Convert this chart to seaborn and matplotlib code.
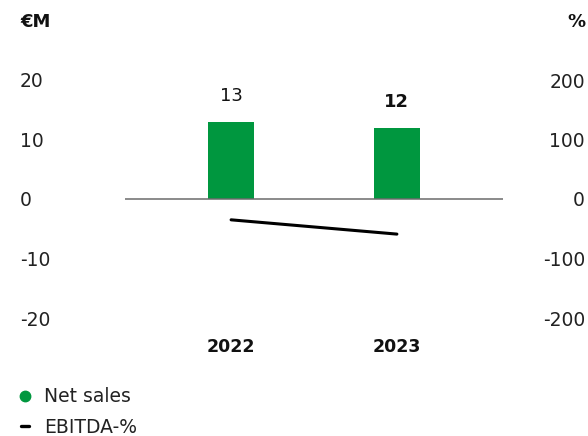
import matplotlib
matplotlib.use("Agg")
import matplotlib.pyplot as plt
from matplotlib.lines import Line2D
import numpy as np
import pandas as pd
import seaborn as sns

years = ["2022", "2023"]
net_sales = [13, 12]          # €M
ebitda_pct = [-35, -59]       # %
left_ticks = [-20, -10, 0, 10, 20]
right_ticks = [-200, -100, 0, 100, 200]

GREEN = "#00973f"
TEXT = "#222222"

sns.set_theme(style="white")
plt.rcParams["font.family"] = ["DejaVu Sans"]

W, H = 588, 436
PT = 0.72  # points per pixel at 100 dpi
fig = plt.figure(figsize=(W / 100, H / 100), dpi=100)
ax = fig.add_axes([125 / W, 1 - 318 / H, (503 - 125) / W, (318 - 80) / H])

df = pd.DataFrame({"year": years, "sales": net_sales})
sns.barplot(data=df, x="year", y="sales", color=GREEN, width=0.28,
            saturation=1, ax=ax, edgecolor="none")
ax.set_xlim(-0.64, 1.64)
ax.set_ylim(-20, 20)
ax.axhline(0, color="#6b6b6b", lw=1.1, zorder=1)

for s in ax.spines.values():
    s.set_visible(False)
ax.set_xlabel("")
ax.set_ylabel("")
ax.set_yticks(left_ticks)
ax.set_yticklabels([str(t) for t in left_ticks])
ax.tick_params(axis="y", length=0, pad=105 * PT, labelsize=13.5, labelcolor=TEXT)
for lbl in ax.get_yticklabels():
    lbl.set_horizontalalignment("left")
ax.tick_params(axis="x", length=0, pad=20 * PT, labelsize=12.5,
               labelcolor="#111111")
for lbl in ax.get_xticklabels():
    lbl.set_fontweight("bold")

# value labels above the bars
for i, (bar, v) in enumerate(zip(ax.patches, net_sales)):
    ax.annotate(f"{v}", (bar.get_x() + bar.get_width() / 2, v),
                xytext=(0, 26 * PT), textcoords="offset points", ha="center",
                va="center", fontsize=13, color="#111111",
                fontweight="bold" if i == len(net_sales) - 1 else "normal")

ax2 = ax.twinx()
sns.lineplot(x=np.arange(len(years)), y=ebitda_pct, color="black", lw=2.2,
             ax=ax2)
ax2.set_ylim(-200, 200)
ax2.set_yticks(right_ticks)
ax2.set_yticklabels([str(t) for t in right_ticks])
ax2.tick_params(axis="y", length=0, pad=(585 - 503) * PT, labelsize=13.5,
                labelcolor=TEXT)
for lbl in ax2.get_yticklabels():
    lbl.set_horizontalalignment("right")
for s in ax2.spines.values():
    s.set_visible(False)
ax2.set_ylabel("")

fig.text(20 / W, 1 - 22 / H, "€M", ha="left", va="center", fontsize=13,
         fontweight="bold", color="#111111")
fig.text(586 / W, 1 - 22 / H, "%", ha="right", va="center", fontsize=13,
         fontweight="bold", color="#111111")

handles = [
    Line2D([], [], marker="o", color=GREEN, linestyle="none", markersize=7.5),
    Line2D([], [], color="black", lw=2.4),
]
fig.legend(handles, ["Net sales", "EBITDA-%"], loc="upper left",
           bbox_to_anchor=(10 / W, 1 - 376 / H), frameon=False,
           fontsize=13.5, handlelength=0.42, handletextpad=0.8,
           labelspacing=0.6, labelcolor=TEXT, borderaxespad=0.2)

fig.savefig("out.png", dpi=100)
